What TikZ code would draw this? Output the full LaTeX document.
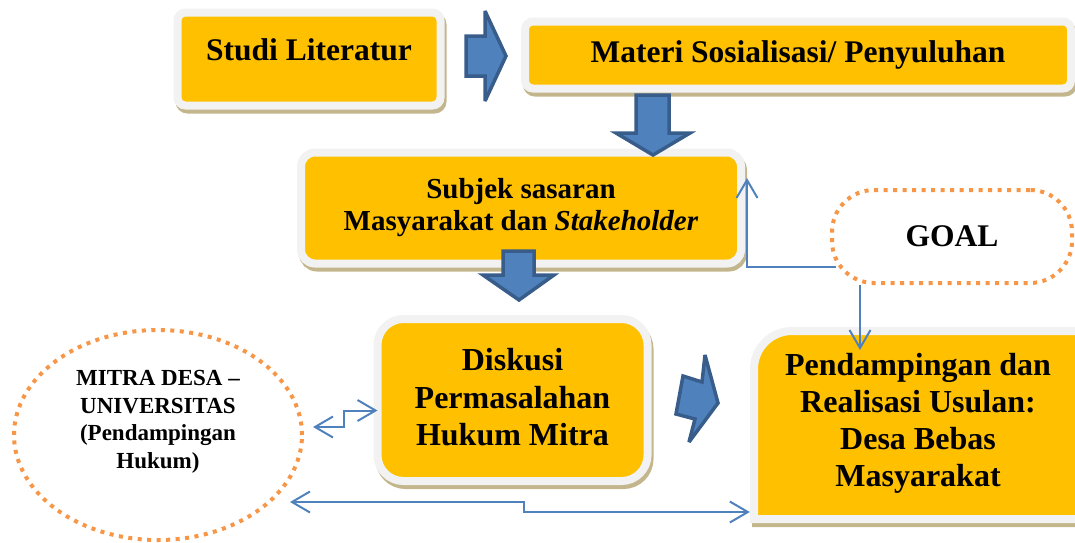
\documentclass[tikz,border=0pt]{standalone}
\usepackage{fontspec}
\setmainfont{Liberation Serif}
\usepackage{xcolor}
\usepackage{tikz}
\usetikzlibrary{positioning,arrows.meta,shapes.geometric}

\definecolor{gold}{RGB}{255,192,0}
\definecolor{rim}{RGB}{242,242,242}
\definecolor{khaki}{RGB}{196,182,140}
\definecolor{steel}{RGB}{79,129,189}
\definecolor{steeldark}{RGB}{56,93,138}
\definecolor{peach}{RGB}{247,150,70}

\begin{document}
\begin{tikzpicture}[x=1pt, y=-1pt,
  panel/.style={fill=gold, draw=rim, line width=8pt, inner sep=0pt, align=center,
    preaction={draw=khaki, fill=khaki, line width=8pt, transform canvas={shift={(2pt,-4pt)}}}},
  dotline/.style={draw=peach, line width=4pt, dash pattern=on 4pt off 5.5pt, inner sep=0pt, align=center},
  fatarrow/.style={fill=steel, draw=steeldark, line width=3.5pt, line join=miter, miter limit=4},
  link/.style={draw=steel, line width=2pt},
  tip/.tip={Straight Barb[length=18pt,width=21pt]},
  big/.style={font=\bfseries\fontsize{31.5}{37}\selectfont},
  mid/.style={font=\bfseries\fontsize{29}{32}\selectfont},
  small/.style={font=\bfseries\fontsize{23}{27.5}\selectfont}]
\useasboundingbox (0,0) rectangle (1075,542);

% boxes of the top row
\node[panel, rounded corners=8pt, big, minimum width=263pt, minimum height=93pt,
  text height=22pt, text depth=20pt] (studi) at (309,59) {Studi Literatur};
\node[panel, rounded corners=8pt, big, minimum width=546pt, minimum height=67pt]
  (materi) at (798,55) {Materi Sosialisasi/ Penyuluhan};

% subject of the outreach
\node[panel, rounded corners=14pt, mid, minimum width=440pt, minimum height=111pt]
  (subjek) at (521,208) {Subjek sasaran\\Masyarakat dan \textit{Stakeholder}};

% goal
\node[dotline, rounded corners=42pt, big, minimum width=240pt, minimum height=93pt]
  (goal) at (952,236.5) {GOAL};

% discussion box
\node[panel, rounded corners=26pt, font=\bfseries\fontsize{32}{37.5}\selectfont,
  minimum width=270pt, minimum height=162pt, text depth=6pt]
  (diskusi) at (512.5,400) {Diskusi\\Permasalahan\\Hukum Mitra};

% realisation box, cut at the right and bottom edge
\path[panel] (754,519) [rounded corners=38pt] -- (754,331) -- (1110,331)
  [sharp corners] -- (1110,519) -- cycle;
\node[inner sep=0pt, align=center, font=\bfseries\fontsize{32}{37}\selectfont,
  minimum width=336pt, minimum height=196pt] (pendamp) at (918,423)
  {Pendampingan dan\\Realisasi Usulan:\\Desa Bebas\\Masyarakat};

% partner ellipse
\node[dotline, ellipse, small, minimum width=288pt, minimum height=210pt]
  (mitra) at (158,435) {MITRA DESA --\\UNIVERSITAS\\(Pendampingan\\Hukum)\\[4pt]};

% block arrows
\draw[fatarrow] (466,36) -- (485,36) -- (485,11) -- (506,56) -- (485,101)
  -- (485,76) -- (466,76) -- cycle;
\draw[fatarrow] (636,95) -- (669,95) -- (669,133) -- (690,133) -- (653,155)
  -- (616,133) -- (636,133) -- cycle;
\draw[fatarrow] (503,251) -- (534,251) -- (534,275) -- (554,275) -- (519,300)
  -- (483,275) -- (503,275) -- cycle;
\draw[fatarrow] (683,376) -- (702,382) -- (705,355) -- (718,403) -- (689,442)
  -- (695,419) -- (676,414) -- cycle;

% thin connectors
\draw[link, -tip] ([shift={(6pt,-30pt)}]goal.west) -| ([shift={(2pt,30pt)}]subjek.east);
\draw[link, -tip] ([xshift=-92pt]goal.south) -- ++(0,65);
\draw[link, tip-tip] ([shift={(9pt,8pt)}]mitra.east) -- ++(31,0)
  |- ([shift={(4pt,-10.5pt)}]diskusi.west);
\draw[link, tip-tip] ([shift={(-14pt,-67pt)}]mitra.east) -- ++(234,0) -- ++(0,10)
  -- ([yshift=-89pt]pendamp.west);
\end{tikzpicture}
\end{document}
